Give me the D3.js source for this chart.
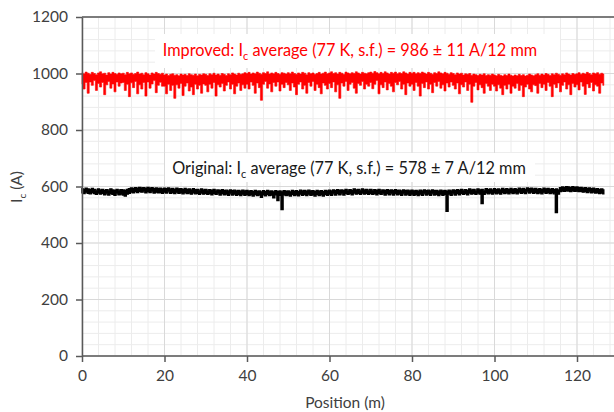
<!DOCTYPE html>
<html>
<head>
<meta charset="utf-8">
<script src="https://cdn.jsdelivr.net/npm/d3@7"></script>
<style>
  body { margin: 0; background: #fff; }
  text { font-family: Lato, "Open Sans", sans-serif; }
</style>
</head>
<body>
<div id="chart"></div>
<script>
// each reading is the max / min of Ic within a 0.5 m bin, starting at 0 m
const startPos = 0;
const stepPos = 0.5;

const improvedHi = [
  1003, 999, 1005, 1001, 997, 1004, 1000, 996, 1002, 1006, 999, 1001, 995, 1003, 998, 1004, 1000, 997, 1002, 999,
  1001, 996, 1004, 999, 1002, 997, 1000, 1005, 998, 1001, 996, 1003, 999, 995, 1002, 998, 1004, 1000, 997, 1001,
  995, 998, 993, 997, 999, 994, 996, 992, 998, 995, 997, 993, 999, 996, 994, 998, 992, 997, 995, 999,
  997, 993, 999, 996, 1001, 995, 998, 994, 1000, 997, 993, 999, 996, 1002, 998, 995, 1001, 997, 999, 1003,
  1000, 1004, 998, 1002, 999, 1005, 1001, 997, 1003, 1000, 1006, 998, 1002, 999, 1004, 1000, 997, 1003, 1001, 998,
  1003, 999, 1005, 1000, 997, 1002, 998, 1004, 1001, 996, 1003, 999, 1002, 997, 1000, 1004, 998, 1001, 1005, 999,
  1002, 1006, 1000, 1003, 998, 1004, 1001, 997, 1005, 1002, 999, 1003, 1000, 1006, 1002, 998, 1004, 1001, 999, 1003,
  1005, 1001, 1007, 1003, 999, 1004, 1000, 1006, 1002, 998, 1004, 1001, 1005, 999, 1003, 1000, 1006, 1002, 998, 1004,
  1001, 1004, 999, 1003, 1000, 1005, 1002, 998, 1004, 1001, 997, 1003, 1000, 1006, 1002, 999, 1004, 1001, 997, 1003,
  1000, 996, 1002, 998, 1001, 995, 999, 997, 1000, 994, 998, 996, 993, 997, 995, 999, 993, 996, 994, 998,
  995, 992, 997, 994, 991, 996, 993, 998, 994, 991, 995, 992, 997, 993, 996, 991, 994, 998, 995, 992,
  996, 999, 994, 998, 995, 1000, 997, 993, 999, 996, 1001, 997, 994, 999, 996, 1002, 998, 995, 1000, 997,
  999, 1003, 997, 1001, 998, 1004, 1000, 996, 1002, 999, 1003, 997, 1001, 998
];
const improvedLo = [
  962, 945, 968, 930, 970, 958, 975, 940, 965, 952, 968, 925, 960, 972, 948, 963, 935, 970, 955, 966,
  968, 940, 962, 918, 967, 950, 972, 928, 960, 945, 968, 920, 970, 948, 963, 975, 932, 958, 969, 955,
  955, 928, 962, 940, 958, 912, 960, 948, 965, 922, 955, 966, 938, 952, 925, 962, 945, 958, 930, 963,
  958, 935, 962, 948, 968, 920, 960, 952, 965, 938, 958, 970, 945, 962, 928, 955, 966, 940, 960, 948,
  962, 945, 970, 958, 930, 966, 950, 905, 962, 972, 948, 963, 935, 968, 955, 970, 938, 962, 950, 968,
  960, 940, 966, 952, 925, 962, 970, 945, 958, 930, 968, 955, 972, 940, 962, 950, 928, 966, 958, 945,
  965, 950, 970, 935, 960, 912, 966, 955, 972, 940, 962, 968, 948, 930, 965, 958, 972, 945, 962, 955,
  968, 946, 962, 975, 928, 960, 950, 970, 942, 965, 955, 935, 968, 960, 972, 945, 962, 925, 966, 955,
  962, 940, 968, 955, 920, 965, 950, 970, 945, 962, 932, 968, 955, 972, 948, 960, 938, 966, 952, 970,
  958, 945, 966, 928, 960, 952, 970, 940, 962, 898, 955, 968, 942, 960, 950, 930, 965, 955, 940, 962,
  955, 938, 960, 948, 925, 958, 945, 962, 930, 955, 948, 965, 940, 958, 918, 952, 962, 945, 935, 960,
  957, 930, 965, 950, 962, 940, 968, 955, 918, 962, 950, 966, 935, 958, 970, 945, 960, 925, 965, 952,
  960, 942, 970, 955, 926, 963, 950, 968, 938, 960, 955, 930, 966, 958
];

const originalHi = [
  592, 590, 594, 591, 589, 593, 590, 587, 591, 588, 590, 586, 589, 587, 591, 588, 586, 590, 587, 589,
  588, 586, 590, 592, 595, 593, 596, 594, 597, 595, 596, 593, 597, 594, 596, 592, 595, 593, 594, 591,
  594, 592, 595, 591, 593, 590, 594, 591, 592, 589, 593, 590, 591, 588, 592, 589, 590, 587, 591, 588,
  590, 587, 589, 586, 590, 587, 588, 585, 589, 586, 587, 584, 588, 585, 587, 584, 586, 583, 587, 584,
  586, 583, 585, 582, 586, 583, 584, 581, 585, 582, 586, 583, 584, 581, 585, 582, 584, 581, 585, 583,
  584, 581, 586, 583, 585, 582, 587, 584, 586, 583, 587, 584, 585, 582, 586, 583, 585, 582, 586, 584,
  587, 584, 588, 585, 589, 586, 588, 585, 590, 587, 589, 586, 591, 588, 590, 587, 591, 588, 590, 587,
  590, 587, 589, 586, 590, 587, 588, 585, 589, 586, 588, 585, 589, 586, 587, 584, 588, 585, 587, 584,
  587, 584, 586, 583, 587, 584, 588, 585, 587, 584, 588, 585, 586, 583, 587, 584, 586, 583, 587, 584,
  588, 585, 589, 586, 590, 587, 589, 586, 591, 588, 590, 587, 591, 588, 590, 587, 592, 589, 591, 588,
  592, 589, 591, 588, 593, 590, 592, 589, 593, 590, 592, 589, 594, 591, 593, 590, 595, 592, 594, 591,
  593, 590, 592, 589, 594, 591, 593, 590, 592, 589, 591, 588, 596, 598, 597, 599, 598, 596, 599, 597,
  598, 596, 597, 594, 596, 593, 595, 592, 594, 591, 592, 589, 591, 588
];
const originalLo = [
  578, 575, 580, 576, 574, 579, 575, 572, 577, 573, 576, 571, 574, 570, 575, 572, 569, 574, 571, 573,
  570, 566, 573, 576, 580, 578, 582, 579, 583, 580, 581, 578, 582, 579, 581, 577, 580, 578, 579, 576,
  580, 577, 581, 576, 579, 575, 580, 576, 578, 574, 579, 575, 577, 573, 578, 574, 576, 572, 577, 573,
  576, 572, 575, 571, 576, 572, 574, 570, 575, 571, 573, 569, 574, 570, 573, 569, 572, 568, 573, 569,
  572, 568, 571, 566, 572, 568, 570, 562, 571, 567, 572, 568, 570, 560, 571, 550, 569, 518, 571, 568,
  570, 566, 572, 568, 571, 567, 573, 569, 572, 568, 573, 569, 571, 566, 572, 568, 571, 566, 572, 569,
  573, 569, 574, 570, 575, 571, 574, 570, 576, 572, 575, 571, 577, 573, 576, 572, 577, 573, 576, 572,
  576, 572, 575, 571, 576, 572, 574, 570, 575, 571, 574, 570, 575, 571, 573, 569, 574, 570, 573, 569,
  573, 569, 572, 568, 573, 569, 574, 570, 573, 569, 574, 570, 572, 568, 573, 569, 572, 512, 573, 569,
  574, 570, 575, 571, 576, 572, 575, 571, 577, 573, 576, 572, 577, 573, 540, 572, 578, 574, 577, 573,
  578, 574, 577, 573, 579, 575, 578, 574, 579, 575, 578, 574, 580, 576, 579, 575, 581, 577, 580, 576,
  579, 575, 578, 574, 580, 576, 579, 575, 578, 574, 508, 573, 582, 584, 583, 585, 584, 582, 585, 583,
  584, 582, 583, 580, 582, 579, 581, 578, 580, 577, 578, 575, 577, 574
];

const xTicks = [0, 20, 40, 60, 80, 100, 120];
const yTicks = [0, 200, 400, 600, 800, 1000, 1200];

const width = 614;
const height = 412;
const margin = {left: 82, top: 17, bottom: 56};

const x = d3.scaleLinear().domain([0, 130]).range([margin.left, margin.left + 130 * 4.125]);
const y = d3.scaleLinear().domain([0, 1200]).range([height - margin.bottom, margin.top]);

const svg = d3.select("#chart")
  .append("svg")
    .attr("width", width)
    .attr("height", height);

// minor grid
svg.append("g")
  .selectAll("line")
  .data(d3.range(0, 131, 4))
  .enter().append("line")
    .attr("x1", d => x(d)).attr("x2", d => x(d))
    .attr("y1", y(0)).attr("y2", y(1200))
    .attr("stroke", "#ececec");
svg.append("g")
  .selectAll("line")
  .data(d3.range(0, 1201, 40))
  .enter().append("line")
    .attr("x1", x(0)).attr("x2", width)
    .attr("y1", d => y(d)).attr("y2", d => y(d))
    .attr("stroke", "#ececec");

// major grid
svg.append("g")
  .selectAll("line")
  .data(xTicks)
  .enter().append("line")
    .attr("x1", d => x(d)).attr("x2", d => x(d))
    .attr("y1", y(0)).attr("y2", y(1200))
    .attr("stroke", "#d9d9d9");
svg.append("g")
  .selectAll("line")
  .data(yTicks)
  .enter().append("line")
    .attr("x1", x(0)).attr("x2", width)
    .attr("y1", d => y(d)).attr("y2", d => y(d))
    .attr("stroke", "#d9d9d9");

// text boxes (white fill hides the grid behind the labels)
svg.append("rect")
  .attr("x", 155).attr("y", 34).attr("width", 405).attr("height", 34)
  .attr("fill", "#fff");
svg.append("rect")
  .attr("x", 165).attr("y", 153).attr("width", 370).attr("height", 29)
  .attr("fill", "#fff");

// band between the bin max and bin min
const band = d3.area()
  .x((d, i) => x(startPos + i * stepPos))
  .y0(d => y(d[1]))
  .y1(d => y(d[0]))
  .curve(d3.curveStep);

svg.append("path")
  .datum(d3.zip(improvedHi, improvedLo))
  .attr("d", band)
  .attr("fill", "#ff0000")
  .attr("stroke", "#ff0000")
  .attr("stroke-width", 0.6);

svg.append("path")
  .datum(d3.zip(originalHi, originalLo))
  .attr("d", band)
  .attr("fill", "#000")
  .attr("stroke", "#000")
  .attr("stroke-width", 1.4);

// axes
const xAxis = svg.append("g")
  .attr("transform", "translate(0," + y(0) + ")")
  .call(d3.axisBottom(x).tickValues(xTicks).tickFormat(d3.format("d")).tickSize(6).tickSizeOuter(0).tickPadding(8));
const yAxis = svg.append("g")
  .attr("transform", "translate(" + x(0) + ",0)")
  .call(d3.axisLeft(y).tickValues(yTicks).tickFormat(d3.format("d")).tickSize(6).tickSizeOuter(0).tickPadding(8));

[xAxis, yAxis].forEach(g => {
  g.select(".domain").attr("stroke", "#595959").attr("stroke-width", 1.5);
  g.selectAll(".tick line").attr("stroke", "#595959").attr("stroke-width", 1.5);
  g.selectAll(".tick text")
    .attr("fill", "#404040")
    .style("font-family", "Lato, sans-serif")
    .style("font-size", "15.5px");
});
xAxis.select(".domain").attr("d", "M" + x(0) + ",0H" + width);

// top border of plot area
svg.append("line")
  .attr("x1", x(0)).attr("x2", width)
  .attr("y1", y(1200)).attr("y2", y(1200))
  .attr("stroke", "#595959").attr("stroke-width", 1.5);

// axis titles
svg.append("text")
  .attr("x", 345).attr("y", 408)
  .attr("text-anchor", "middle")
  .attr("fill", "#404040")
  .style("font-size", "15.5px")
  .text("Position (m)");

const yTitle = svg.append("text")
  .attr("transform", "translate(22,187) rotate(-90)")
  .attr("text-anchor", "middle")
  .attr("fill", "#404040")
  .style("font-size", "15.5px");
yTitle.append("tspan").text("I");
yTitle.append("tspan").attr("dy", 4).style("font-size", "10px").text("c");
yTitle.append("tspan").attr("dy", -4).text(" (A)");

function note(cx, cy, color, head, tail) {
  const t = svg.append("text")
    .attr("x", cx).attr("y", cy)
    .attr("text-anchor", "middle")
    .attr("fill", color)
    .style("font-size", "16.3px");
  t.append("tspan").text(head + "I");
  t.append("tspan").attr("dy", 4).style("font-size", "11px").text("c");
  t.append("tspan").attr("dy", -4).text(tail);
}
note(350, 56, "#ff0000", "Improved: ", " average (77 K, s.f.) = 986 ± 11 A/12 mm");
note(349, 174, "#1a1a1a", "Original: ", " average (77 K, s.f.) = 578 ± 7 A/12 mm");
</script>
</body>
</html>
